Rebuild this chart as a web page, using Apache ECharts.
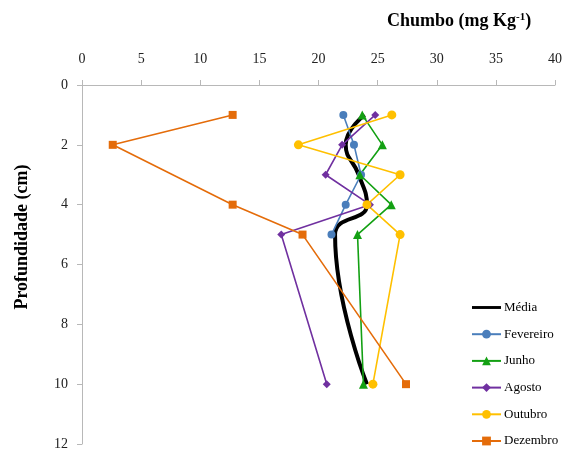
<!DOCTYPE html>
<html>
<head>
<meta charset="utf-8">
<script src="https://cdn.jsdelivr.net/npm/echarts@6/dist/echarts.min.js"></script>
<style>
  html, body { margin: 0; padding: 0; background: #fff; }
  #chart { width: 565px; height: 454px; }
</style>
</head>
<body>
<div id="chart"></div>
<script>
// Depth of each sample (cm)
const depths = [1, 2, 3, 4, 5, 10];
const depthTicks = [0, 2, 4, 6, 8, 10, 12];
const leadTicks = [0, 5, 10, 15, 20, 25, 30, 35, 40];

// Lead concentration (mg/kg) by sampling month
const media     = [23.9, 22.3, 23.4, 24.1, 21.4, 24.1];
const fevereiro = [22.1, 23.0, 23.6, 22.3, 21.1];
const junho     = [23.7, 25.4, 23.5, 26.15, 23.3, 23.8];
const agosto    = [24.8, 22.0, 20.6, 24.35, 16.85, 20.7];
const outubro   = [26.2, 18.3, 26.9, 24.1, 26.9, 24.6];
const dezembro  = [12.74, 2.6, 12.74, 18.65, 27.4];
const dezembroDepths = [1, 2, 4, 5, 10];

const pairs = (xs, ys) => xs.map((v, i) => [v, ys[i]]);

const serif = 'Liberation Serif';

function monthSeries(name, values, ds, color, symbol, size) {
  return {
    name: name,
    type: 'line',
    data: pairs(values, ds),
    symbol: symbol,
    symbolSize: size,
    lineStyle: { color: color, width: 1.6 },
    itemStyle: { color: color },
    emphasis: { disabled: true },
    z: 3
  };
}

const chart = echarts.init(document.getElementById('chart'));
chart.setOption({
  animation: false,
  backgroundColor: '#fff',
  textStyle: { fontFamily: serif },
  title: {
    text: 'Chumbo (mg Kg{sup|-1})',
    left: 382,
    top: 7,
    textStyle: {
      fontFamily: serif, fontSize: 18, fontWeight: 'bold', color: '#000',
      rich: { sup: { fontFamily: serif, fontSize: 11, fontWeight: 'bold', verticalAlign: 'top', padding: [0, 0, 8, 0], color: '#000' } }
    }
  },
  graphic: [{
    type: 'text',
    x: 22,
    y: 237,
    rotation: Math.PI / 2,
    style: {
      text: 'Profundidade (cm)',
      font: 'bold 18px "Liberation Serif"',
      fill: '#000',
      align: 'center',
      verticalAlign: 'middle'
    }
  }],
  legend: {
    orient: 'vertical',
    left: 466,
    top: 296,
    itemWidth: 29,
    itemHeight: 11,
    itemGap: 13.7,
    symbolKeepAspect: true,
    textStyle: { fontFamily: serif, fontSize: 13, color: '#000', padding: [0, 0, 0, -2] },
    data: [
      { name: 'Média', icon: 'path://M0,0L30,0L30,3L0,3Z' },
      'Fevereiro', 'Junho', 'Agosto', 'Outubro', 'Dezembro'
    ]
  },
  grid: { left: 82, right: 10, top: 85, bottom: 10, containLabel: false },
  xAxis: {
    type: 'value',
    position: 'top',
    min: leadTicks[0],
    max: leadTicks[leadTicks.length - 1],
    interval: leadTicks[1] - leadTicks[0],
    axisLine: { show: true, lineStyle: { color: '#b8b8b8', width: 1 } },
    axisTick: { show: true, inside: false, length: 5, lineStyle: { color: '#b8b8b8' } },
    splitLine: { show: false },
    axisLabel: { fontFamily: serif, fontSize: 14, color: '#222', margin: 19 }
  },
  yAxis: {
    type: 'value',
    inverse: true,
    min: depthTicks[0],
    max: depthTicks[depthTicks.length - 1],
    interval: depthTicks[1] - depthTicks[0],
    axisLine: { show: true, lineStyle: { color: '#b8b8b8', width: 1 } },
    axisTick: { show: true, length: 5, lineStyle: { color: '#b8b8b8' } },
    splitLine: { show: false },
    axisLabel: { fontFamily: serif, fontSize: 14, color: '#222', margin: 14 }
  },
  series: [
    {
      name: 'Média',
      type: 'line',
      data: pairs(media, depths),
      smooth: 0.5,
      symbol: 'none',
      lineStyle: { color: '#000', width: 4 },
      itemStyle: { color: '#000' },
      emphasis: { disabled: true },
      z: 2
    },
    monthSeries('Fevereiro', fevereiro, depths, '#4a7ebb', 'circle', 8),
    monthSeries('Junho', junho, depths, '#13a013', 'triangle', 9),
    monthSeries('Agosto', agosto, depths, '#7030a0', 'diamond', 8),
    monthSeries('Outubro', outubro, depths, '#ffc000', 'circle', 9),
    monthSeries('Dezembro', dezembro, dezembroDepths, '#e46c0a', 'rect', 8)
  ]
});
</script>
</body>
</html>
